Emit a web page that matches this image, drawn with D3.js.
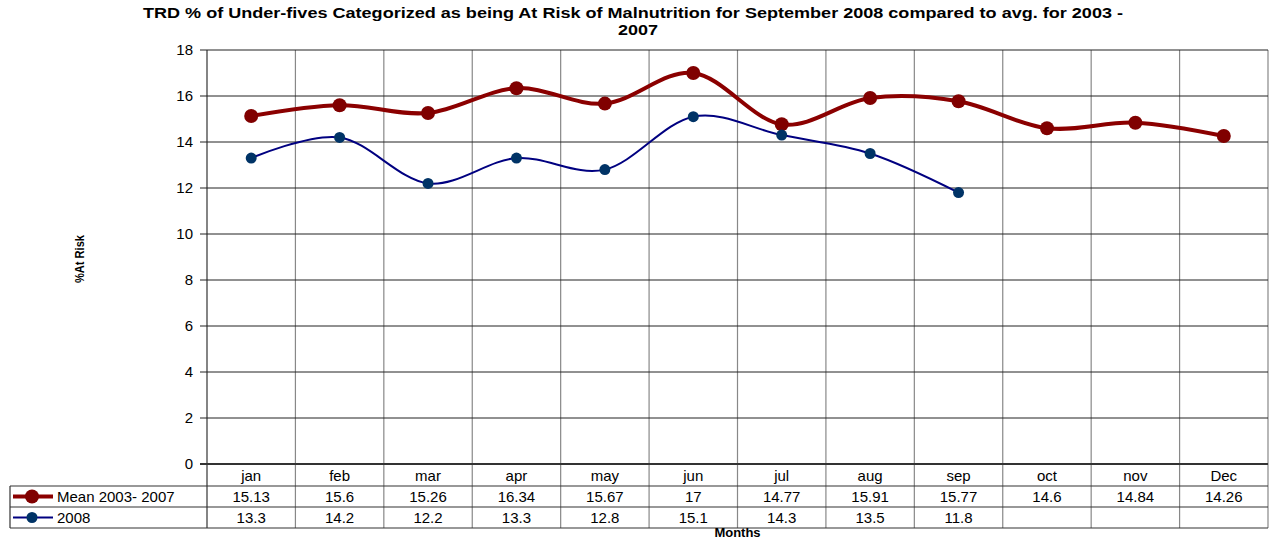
<!DOCTYPE html>
<html>
<head>
<meta charset="utf-8">
<script src="https://cdnjs.cloudflare.com/ajax/libs/d3/7.8.5/d3.min.js"></script>
<style>
body { margin: 0; background: #fff; }
svg { display: block; font-family: Arial, "Liberation Sans", sans-serif; }
</style>
</head>
<body>
<div class="svg-canvas"></div>
<script>
// Data
var months = ["jan", "feb", "mar", "apr", "may", "jun", "jul", "aug", "sep", "oct", "nov", "Dec"];
var meanVals = [15.13, 15.6, 15.26, 16.34, 15.67, 17, 14.77, 15.91, 15.77, 14.6, 14.84, 14.26];
var vals2008 = [13.3, 14.2, 12.2, 13.3, 12.8, 15.1, 14.3, 13.5, 11.8];
var yTicks = [0, 2, 4, 6, 8, 10, 12, 14, 16, 18];
var seriesNames = ["Mean 2003- 2007", "2008"];

var W = 1269, H = 540;
var m = {left: 207, right: 1268, top: 50, bottom: 464};

var svg = d3.select(".svg-canvas").append("svg")
    .attr("width", W)
    .attr("height", H);

var x = d3.scaleBand().domain(months).range([m.left, m.right]);
var y = d3.scaleLinear().domain([0, 18]).range([m.bottom, m.top]);
var cx = function(i) { return x(months[i]) + x.bandwidth() / 2; };

// title (the original font is wide, so stretch it)
svg.append("text").attr("x", 633).attr("y", 18).attr("text-anchor", "middle")
    .attr("textLength", 980).attr("lengthAdjust", "spacingAndGlyphs")
    .style("font-size", "14px").style("font-weight", "bold")
    .text("TRD % of Under-fives Categorized as being At Risk of Malnutrition for September 2008 compared to avg. for 2003 -");
svg.append("text").attr("x", 638).attr("y", 35).attr("text-anchor", "middle")
    .attr("textLength", 40).attr("lengthAdjust", "spacingAndGlyphs")
    .style("font-size", "14px").style("font-weight", "bold")
    .text("2007");

// vertical gridlines (column borders), running down through the table
var rows = [486, 507, 528];
svg.selectAll(".vgrid")
    .data(months.concat(["end"]))
    .enter().append("line")
    .attr("x1", function(d, i) { return i < months.length ? x(d) : m.right; })
    .attr("x2", function(d, i) { return i < months.length ? x(d) : m.right; })
    .attr("y1", m.top)
    .attr("y2", rows[2])
    .attr("stroke", function(d, i) { return i == 0 ? "#333" : "#888"; })
    .attr("stroke-width", 1.2);

// horizontal gridlines
svg.selectAll(".hgrid")
    .data(yTicks)
    .enter().append("line")
    .attr("x1", m.left - 7)
    .attr("x2", m.right)
    .attr("y1", function(d) { return y(d); })
    .attr("y2", function(d) { return y(d); })
    .attr("stroke", function(d) { return d == 0 ? "#333" : "#222"; })
    .attr("stroke-width", function(d) { return d == 0 ? 2 : 1; });

// y tick labels
svg.selectAll(".ylab")
    .data(yTicks)
    .enter().append("text")
    .attr("x", 193)
    .attr("y", function(d) { return y(d) + 5; })
    .attr("text-anchor", "end")
    .style("font-size", "15px")
    .text(function(d) { return d; });

svg.append("text")
    .attr("transform", "translate(84,259) rotate(-90)")
    .attr("text-anchor", "middle")
    .attr("textLength", 48).attr("lengthAdjust", "spacingAndGlyphs")
    .style("font-size", "13px").style("font-weight", "bold")
    .text("%At Risk");

// data table
svg.selectAll(".trow")
    .data(rows)
    .enter().append("line")
    .attr("x1", 10).attr("x2", m.right)
    .attr("y1", function(d) { return d; }).attr("y2", function(d) { return d; })
    .attr("stroke", "#333").attr("stroke-width", 1.2);
svg.append("line").attr("x1", 10).attr("x2", 10).attr("y1", rows[0]).attr("y2", rows[2])
    .attr("stroke", "#333").attr("stroke-width", 1.2);

svg.selectAll(".mlab")
    .data(months)
    .enter().append("text")
    .attr("x", function(d, i) { return cx(i); })
    .attr("y", 481)
    .attr("text-anchor", "middle")
    .style("font-size", "15px")
    .text(function(d) { return d; });

var tableSeries = [meanVals, vals2008];
tableSeries.forEach(function(s, k) {
    svg.selectAll(".v" + k)
        .data(s)
        .enter().append("text")
        .attr("x", function(d, i) { return cx(i); })
        .attr("y", rows[k] + 16)
        .attr("text-anchor", "middle")
        .style("font-size", "15px")
        .text(function(d) { return d; });
});

var colors = [{line: "#8b0000", dot: "#800000", w: 4, r: 7}, {line: "#000080", dot: "#003366", w: 2, r: 5.5}];

// legend keys in table
seriesNames.forEach(function(n, k) {
    var yy = rows[k] + 10.5;
    svg.append("line").attr("x1", 13).attr("x2", 53).attr("y1", yy).attr("y2", yy)
        .attr("stroke", colors[k].line).attr("stroke-width", colors[k].w);
    svg.append("circle").attr("cx", 32).attr("cy", yy).attr("r", colors[k].r)
        .attr("fill", colors[k].dot);
    svg.append("text").attr("x", 57).attr("y", rows[k] + 16)
        .style("font-size", "15px").text(n);
});

svg.append("text").attr("x", (m.left + m.right) / 2).attr("y", 537)
    .attr("text-anchor", "middle")
    .style("font-size", "13px").style("font-weight", "bold")
    .text("Months");

// series lines
var line = d3.line()
    .x(function(d, i) { return cx(i); })
    .y(function(d) { return y(d); })
    .curve(d3.curveCatmullRom.alpha(0));

tableSeries.forEach(function(s, k) {
    svg.append("path").datum(s)
        .attr("d", line)
        .attr("fill", "none")
        .attr("stroke", colors[k].line)
        .attr("stroke-width", colors[k].w);
    svg.selectAll(".dot" + k)
        .data(s)
        .enter().append("circle")
        .attr("cx", function(d, i) { return cx(i); })
        .attr("cy", function(d) { return y(d); })
        .attr("r", colors[k].r)
        .attr("fill", colors[k].dot);
});
</script>
</body>
</html>
